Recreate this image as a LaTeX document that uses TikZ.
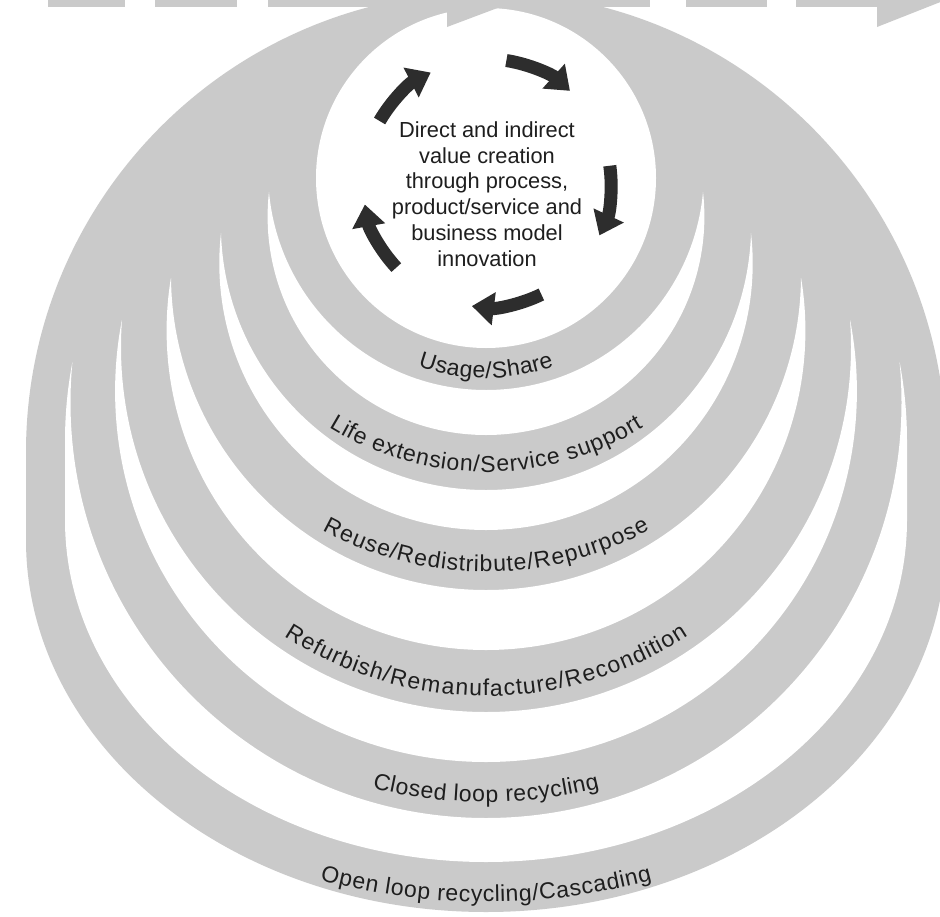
\documentclass[tikz,border=0pt]{standalone}
\usepackage{fontspec}
\setmainfont{Liberation Sans}
\usetikzlibrary{arrows.meta,decorations.text}
\definecolor{bandgray}{RGB}{202,202,202}
\definecolor{ink}{RGB}{30,30,30}
\definecolor{cycink}{RGB}{45,45,45}

\begin{document}
\begin{tikzpicture}[
  x=1pt, y=1pt,
  band/.style={fill=bandgray},
  gap/.style={fill=white,even odd rule},
  cyc/.style={-{Triangle[width=32pt,length=22pt]},line width=13pt,draw=cycink},
  lbl/.style={decorate,decoration={text effects along path,text={#1},text align=center,
    text effects/.cd,text along path,fit text to path,
    characters={font=\fontsize{23}{23}\selectfont,text=ink,inner sep=0pt}}}
]
\useasboundingbox (0,0) rectangle (940,-916);
\clip (0,0) rectangle (940,-916);
\fill[white] (0,0) rectangle (940,-916);

\fill[band] (26,-452) arc[start angle=180,end angle=0,radius=460] -- (946,-540)
  arc[start angle=0,end angle=-180,x radius=460,y radius=372] -- cycle;
\foreach \t/\cb/\rb/\db/\ca/\ra in {362/441/421/79/402.5/415.5,320/391.1/370.9/0/347/365,278/330.6/319.4/0/275/315,233/263.3/266.7/0/224.9/265.1,192/216.6/218.4/0/172.1/217.9}{
  \begin{scope}
    \clip (0,-\t) rectangle (940,-916);
    \fill[gap] (486-\rb,-\cb) arc[start angle=180,end angle=0,radius=\rb] -- ++(0,-\db)
      arc[start angle=0,end angle=-180,x radius=\rb,y radius=\rb-\db] -- cycle
      (486,-\ca) circle[radius=\ra];
  \end{scope}
}
\fill[white] (486,-178) circle[radius=170];
\fill[band] (447,-27) -- (447,5) -- (532,5) -- cycle;

\foreach \xa/\xb in {48/125,155/237,268/650,686/767,796/878}
  \fill[band] (\xa,-7) rectangle (\xb,9);
\fill[band] (877,29) -- (948,1) -- (877,-27) -- cycle;

\coordinate (hub) at (487,-183);
\foreach \a in {81,8,-64,-137,150}
  \draw[cyc] ([shift={(\a:124)}]hub) arc[start angle=\a,end angle=\a-33,radius=124];

\node[font=\fontsize{21.8}{25.7}\selectfont,align=center,text=ink] (core) at (487,-194)
  {Direct and indirect\\value creation\\through process,\\product/service and\\business model\\innovation};

\path[lbl={Usage/Share}] ([shift={(-109.7:202)}]486,-176) arc[start angle=-109.7,end angle=-70.3,radius=202];
\path[lbl={Life extension/Service support}] ([shift={(-121.6:300)}]486,-172) arc[start angle=-121.6,end angle=-58.4,radius=300];
\path[lbl={Reuse/Redistribute/Repurpose}] ([shift={(-118.8:340)}]486,-232) arc[start angle=-118.8,end angle=-61.2,radius=340];
\path[lbl={Refurbish/Remanufacture/Recondition}] ([shift={(-123.1:370)}]486,-326) arc[start angle=-123.1,end angle=-56.9,radius=370];
\path[lbl={Closed loop recycling}] ([shift={(-104:470)}]486,-332) arc[start angle=-104,end angle=-76,radius=470];
\path[lbl={Open loop recycling/Cascading}] ([shift={(-104.8:650)}]486,-252) arc[start angle=-104.8,end angle=-75.2,radius=650];
\end{tikzpicture}
\end{document}
